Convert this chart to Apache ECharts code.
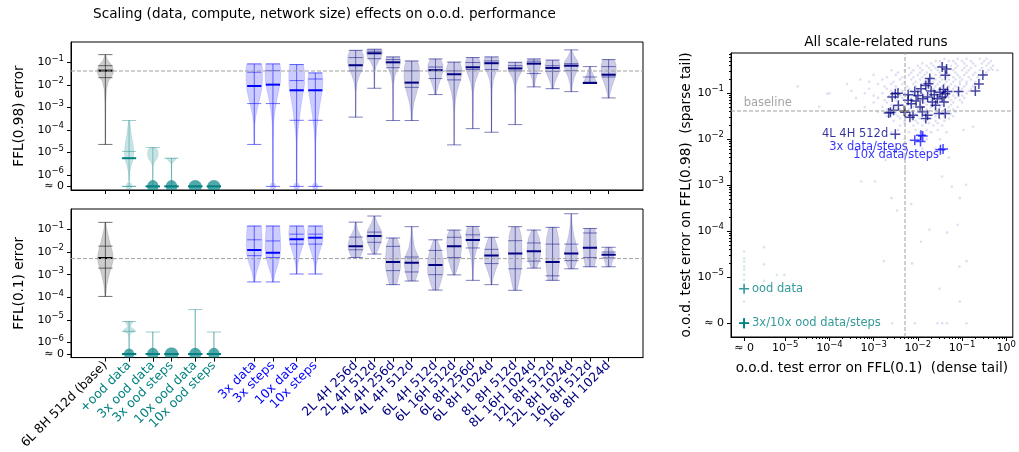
<!DOCTYPE html>
<html><head><meta charset="utf-8">
<script src="https://cdn.jsdelivr.net/npm/echarts@6/dist/echarts.min.js"></script>
<style>html,body{margin:0;padding:0;background:#fff}#c{width:1019px;height:452px}</style>
</head><body><div id="c"></div><script>
// ---------------- DATA ----------------
const categories = ['6L 8H 512d (base)','+ood data','3x ood data','3x ood steps','10x ood data','10x ood steps',
  '3x data','3x steps','10x data','10x steps',
  '2L 4H 256d','2L 4H 512d','4L 4H 256d','4L 4H 512d','6L 4H 512d','6L 16H 512d','6L 8H 256d','6L 8H 1024d',
  '8L 8H 512d','8L 16H 1024d','12L 8H 512d','12L 8H 1024d','16L 8H 512d','16L 8H 1024d'];
const catGroup = ['k','t','t','t','t','t','b','b','b','b','n','n','n','n','n','n','n','n','n','n','n','n','n','n'];
// extra spacing class before each category (0 none, 1 small, 2 large)
const slotGap = [0,1,1,0,1,0,2,0,1,0,2,0,0,0,1,0,0,0,1,0,0,0,0,0];

// log10 of error; -6.5 stands for "≈ 0"
const ZERO_V = -6.5;
const baseline98Log = -1.385;   // FFL(0.98) baseline error
const baseline01Log = -2.29;    // FFL(0.1) baseline error

// violin stats [min, q1, median, q3, max] (log10)
const topStats = [
 [-4.64,-1.68,-1.37,-1.15,-0.66],[-6.5,-6.5,-5.25,-4.95,-3.58],[-6.5,-6.5,-6.5,-6.5,-4.78],[-6.5,-6.5,-6.5,-6.5,-5.25],
 [-6.5,-6.5,-6.5,-6.5,-6.5],[-6.5,-6.5,-6.5,-6.5,-6.5],
 [-4.64,-2.83,-2.05,-1.44,-1.07],[-6.5,-2.83,-1.99,-1.37,-1.07],[-6.5,-3.57,-2.24,-1.81,-1.10],[-6.5,-3.57,-2.24,-1.74,-1.47],
 [-3.43,-1.38,-1.13,-0.79,-0.47],[-2.15,-0.84,-0.60,-0.51,-0.42],[-3.58,-1.24,-1.00,-0.88,-0.76],[-3.58,-2.11,-1.90,-1.38,-0.94],
 [-2.43,-1.72,-1.35,-1.21,-0.85],[-4.66,-1.78,-1.53,-1.38,-0.99],[-3.94,-1.32,-1.22,-1.01,-0.79],[-4.10,-1.32,-1.04,-0.94,-0.76],
 [-3.76,-1.38,-1.27,-1.15,-1.00],[-2.09,-1.50,-1.06,-0.95,-0.85],[-2.17,-1.40,-1.25,-1.15,-0.90],[-2.30,-1.37,-1.15,-1.06,-0.45],
 [-1.94,-1.94,-1.91,-1.65,-1.19],[-2.58,-1.65,-1.55,-1.19,-0.88]
];
const botStats = [
 [-3.96,-2.71,-2.26,-1.74,-0.69],[-6.5,-6.5,-6.5,-5.5,-5.07],[-6.5,-6.5,-6.5,-6.5,-5.53],[-6.5,-6.5,-6.5,-6.5,-6.5],
 [-6.5,-6.5,-6.5,-6.5,-4.54],[-6.5,-6.5,-6.5,-6.5,-5.53],
 [-3.32,-2.16,-1.91,-1.46,-0.85],[-3.32,-2.24,-2.03,-1.51,-0.85],[-2.97,-1.65,-1.44,-1.21,-0.85],[-2.97,-1.65,-1.37,-1.21,-0.85],
 [-2.24,-1.90,-1.75,-1.34,-0.68],[-2.09,-1.57,-1.29,-1.12,-0.41],[-3.44,-2.82,-2.44,-1.75,-1.38],[-3.28,-2.88,-2.47,-2.22,-0.88],
 [-3.68,-3.00,-2.57,-1.93,-1.46],[-3.01,-2.24,-1.75,-1.35,-1.03],[-3.25,-1.82,-1.47,-1.24,-0.87],[-3.44,-2.51,-2.15,-1.88,-1.35],
 [-3.69,-2.74,-2.07,-1.50,-0.88],[-2.71,-2.40,-1.96,-1.60,-1.03],[-3.25,-3.05,-2.44,-1.65,-0.91],[-2.74,-2.38,-2.06,-1.65,-0.31],
 [-2.65,-2.24,-1.81,-1.16,-0.96],[-2.65,-2.26,-2.12,-2.00,-1.79]
];
// density outlines: [log10 value, half-width in slot units]
const topShapes = [
 [[-0.66,0.02],[-0.9,0.12],[-1.15,0.36],[-1.4,0.46],[-1.6,0.36],[-1.85,0.16],[-2.2,0.06],[-2.8,0.025],[-4.64,0.012]],
 [[-3.58,0.03],[-4.2,0.12],[-4.7,0.22],[-5.0,0.25],[-5.3,0.22],[-5.6,0.11],[-5.9,0.03],[-6.25,0.02]],
 [[-4.78,0.14],[-4.9,0.26],[-5.05,0.29],[-5.25,0.24],[-5.45,0.08],[-5.6,0.02],[-6.25,0.012]],
 [[-5.25,0.27],[-5.35,0.18],[-5.5,0.03],[-6.25,0.012]],
 [],[],
 [[-1.07,0.40],[-1.3,0.44],[-1.8,0.44],[-2.2,0.40],[-2.6,0.30],[-3.0,0.18],[-3.4,0.08],[-3.8,0.03],[-4.64,0.015]],
 [[-1.07,0.38],[-1.4,0.42],[-1.9,0.40],[-2.3,0.30],[-2.7,0.20],[-3.2,0.10],[-3.7,0.04],[-4.5,0.02],[-6.3,0.015]],
 [[-1.10,0.36],[-1.4,0.42],[-2.0,0.42],[-2.5,0.32],[-3.0,0.22],[-3.5,0.15],[-4.0,0.07],[-4.5,0.03],[-6.3,0.015]],
 [[-1.47,0.36],[-1.8,0.40],[-2.2,0.38],[-2.6,0.30],[-3.0,0.22],[-3.5,0.14],[-4.0,0.07],[-4.5,0.03],[-6.3,0.015]],
 [[-0.47,0.30],[-0.7,0.42],[-1.0,0.43],[-1.3,0.35],[-1.6,0.20],[-1.9,0.08],[-2.3,0.025],[-3.43,0.012]],
 [[-0.42,0.40],[-0.55,0.43],[-0.75,0.38],[-0.95,0.22],[-1.2,0.08],[-1.5,0.03],[-2.15,0.015]],
 [[-0.76,0.35],[-0.9,0.40],[-1.1,0.38],[-1.3,0.25],[-1.6,0.10],[-2.0,0.03],[-3.58,0.012]],
 [[-0.94,0.30],[-1.2,0.40],[-1.6,0.42],[-2.0,0.38],[-2.4,0.25],[-2.8,0.12],[-3.2,0.05],[-3.58,0.03]],
 [[-0.85,0.28],[-1.1,0.40],[-1.4,0.40],[-1.7,0.30],[-2.0,0.17],[-2.3,0.07],[-2.43,0.05]],
 [[-0.99,0.30],[-1.3,0.42],[-1.6,0.40],[-1.9,0.30],[-2.3,0.15],[-2.7,0.07],[-3.2,0.03],[-4.66,0.012]],
 [[-0.79,0.30],[-1.0,0.40],[-1.3,0.38],[-1.6,0.25],[-1.9,0.12],[-2.3,0.04],[-3.94,0.012]],
 [[-0.76,0.35],[-0.95,0.42],[-1.2,0.38],[-1.5,0.22],[-1.8,0.10],[-2.2,0.04],[-4.10,0.015]],
 [[-1.00,0.35],[-1.2,0.40],[-1.45,0.32],[-1.7,0.15],[-2.0,0.05],[-2.5,0.02],[-3.76,0.012]],
 [[-0.85,0.30],[-1.0,0.38],[-1.25,0.33],[-1.5,0.20],[-1.8,0.08],[-2.09,0.04]],
 [[-0.90,0.32],[-1.1,0.40],[-1.4,0.38],[-1.7,0.22],[-1.95,0.10],[-2.17,0.05]],
 [[-0.45,0.02],[-0.7,0.15],[-0.95,0.35],[-1.15,0.40],[-1.4,0.30],[-1.7,0.15],[-2.0,0.06],[-2.3,0.03]],
 [[-1.19,0.03],[-1.4,0.10],[-1.6,0.20],[-1.8,0.30],[-1.94,0.34]],
 [[-0.88,0.30],[-1.1,0.40],[-1.5,0.40],[-1.8,0.30],[-2.1,0.17],[-2.4,0.07],[-2.58,0.04]]
];
const botShapes = [
 [[-0.69,0.02],[-1.0,0.08],[-1.5,0.22],[-2.0,0.38],[-2.3,0.43],[-2.6,0.35],[-3.0,0.20],[-3.5,0.07],[-3.96,0.02]],
 [[-5.07,0.23],[-5.15,0.15],[-5.3,0.06],[-5.42,0.28],[-5.52,0.30],[-5.6,0.06],[-5.8,0.02],[-6.25,0.015]],
 [[-5.53,0.012],[-6.25,0.012]],
 [],
 [[-4.54,0.012],[-6.25,0.012]],
 [[-5.53,0.012],[-6.25,0.012]],
 [[-0.85,0.38],[-1.2,0.41],[-1.7,0.43],[-2.1,0.40],[-2.5,0.28],[-2.9,0.12],[-3.32,0.03]],
 [[-0.85,0.36],[-1.3,0.40],[-1.8,0.42],[-2.2,0.38],[-2.6,0.25],[-3.0,0.10],[-3.32,0.03]],
 [[-0.85,0.38],[-1.1,0.42],[-1.5,0.40],[-1.8,0.30],[-2.2,0.15],[-2.6,0.05],[-2.97,0.02]],
 [[-0.85,0.38],[-1.1,0.42],[-1.5,0.40],[-1.8,0.30],[-2.2,0.15],[-2.6,0.05],[-2.97,0.02]],
 [[-0.68,0.03],[-1.0,0.10],[-1.3,0.28],[-1.6,0.40],[-1.85,0.40],[-2.1,0.30],[-2.24,0.22]],
 [[-0.41,0.03],[-0.7,0.15],[-1.0,0.35],[-1.3,0.42],[-1.6,0.35],[-1.9,0.20],[-2.09,0.10]],
 [[-1.38,0.20],[-1.7,0.35],[-2.2,0.40],[-2.7,0.40],[-3.1,0.30],[-3.44,0.20]],
 [[-0.88,0.02],[-1.3,0.05],[-1.8,0.15],[-2.2,0.35],[-2.6,0.40],[-3.0,0.30],[-3.28,0.20]],
 [[-1.46,0.10],[-1.9,0.30],[-2.4,0.42],[-2.9,0.42],[-3.3,0.30],[-3.68,0.15]],
 [[-1.03,0.25],[-1.3,0.38],[-1.8,0.40],[-2.3,0.33],[-2.7,0.18],[-3.01,0.06]],
 [[-0.87,0.28],[-1.2,0.38],[-1.5,0.35],[-1.9,0.20],[-2.3,0.08],[-2.8,0.03],[-3.25,0.02]],
 [[-1.35,0.15],[-1.7,0.30],[-2.1,0.40],[-2.5,0.35],[-2.9,0.18],[-3.2,0.07],[-3.44,0.03]],
 [[-0.88,0.20],[-1.3,0.33],[-1.8,0.36],[-2.4,0.36],[-2.9,0.30],[-3.3,0.20],[-3.69,0.10]],
 [[-1.03,0.12],[-1.4,0.30],[-1.9,0.37],[-2.3,0.33],[-2.6,0.20],[-2.71,0.15]],
 [[-0.91,0.20],[-1.4,0.33],[-2.0,0.36],[-2.6,0.35],[-3.0,0.30],[-3.25,0.25]],
 [[-0.31,0.02],[-0.8,0.05],[-1.3,0.15],[-1.7,0.28],[-2.0,0.35],[-2.4,0.30],[-2.74,0.15]],
 [[-0.96,0.28],[-1.3,0.33],[-1.8,0.35],[-2.2,0.33],[-2.5,0.28],[-2.65,0.25]],
 [[-1.79,0.15],[-1.95,0.25],[-2.1,0.27],[-2.3,0.25],[-2.5,0.18],[-2.65,0.13]]
];
// mass at ≈0: [half-width (slots), half-height (decades), dense?]
const topBlobs = [null,[0.17,0.2,0],[0.30,0.28,1],[0.30,0.28,1],[0.35,0.28,1],[0.35,0.28,1],null,[0.16,0.18,0],[0.16,0.18,0],[0.16,0.18,0],
  null,null,null,null,null,null,null,null,null,null,null,null,null,null];
const botBlobs = [null,[0.27,0.24,1],[0.30,0.27,1],[0.36,0.29,1],[0.32,0.27,1],[0.30,0.27,1],null,null,null,null,
  null,null,null,null,null,null,null,null,null,null,null,null,null,null];

// scatter (log10 FFL(0.1) error, log10 FFL(0.98) error); ≈0 -> x -5.93 / y -6.0
const ZERO_SX = -5.93, ZERO_SY = -6.0;
const cloudRows = [
 [-0.25,[-1.4,-1.1,-0.9,-0.6,-0.45]],
 [-0.3,[-1.6,-1.5,-1.3,-1.2,-1.0,-0.8,-0.5,-0.35]],
 [-0.35,[-1.9,-1.7,-1.45,-1.15,-0.95,-0.75,-0.55,-0.4]],
 [-0.4,[-2.0,-1.8,-1.65,-1.5,-1.25,-1.1,-0.9,-0.7,-0.45,-0.3]],
 [-0.45,[-2.2,-1.95,-1.75,-1.6,-1.35,-1.15,-0.95,-0.8,-0.55,-0.35]],
 [-0.5,[-2.6,-2.3,-2.1,-1.9,-1.7,-1.55,-1.4,-1.2,-1.0,-0.85,-0.6,-0.4]],
 [-0.55,[-2.45,-2.15,-1.95,-1.8,-1.5,-1.35,-1.15,-0.9,-0.7,-0.45]],
 [-0.6,[-3.0,-2.5,-2.2,-2.0,-1.85,-1.6,-1.45,-1.3,-1.1,-0.95,-0.75,-0.5]],
 [-0.65,[-2.7,-2.35,-2.1,-1.9,-1.7,-1.5,-1.35,-1.2,-1.05,-0.85,-0.65]],
 [-0.7,[-3.3,-2.8,-2.4,-2.15,-1.95,-1.75,-1.6,-1.45,-1.3,-1.15,-1.0,-0.8,-0.6]],
 [-0.75,[-3.1,-2.55,-2.3,-2.05,-1.85,-1.65,-1.5,-1.35,-1.2,-1.05,-0.9,-0.7]],
 [-0.8,[-3.6,-2.9,-2.6,-2.35,-2.1,-1.9,-1.7,-1.55,-1.4,-1.25,-1.05,-0.9,-0.7]],
 [-0.85,[-2.75,-2.5,-2.25,-2.05,-1.8,-1.6,-1.45,-1.3,-1.15,-0.95,-0.75]],
 [-0.9,[-3.1,-2.7,-2.45,-2.2,-2.0,-1.85,-1.65,-1.5,-1.35,-1.2,-1.0,-0.8]],
 [-0.95,[-3.5,-2.6,-2.35,-2.15,-1.95,-1.7,-1.55,-1.4,-1.25,-1.05,-0.85]],
 [-1.0,[-4.0,-3.2,-2.8,-2.5,-2.3,-2.1,-1.9,-1.75,-1.6,-1.45,-1.3,-1.1,-0.9]],
 [-1.05,[-3.0,-2.65,-2.4,-2.2,-2.0,-1.85,-1.65,-1.5,-1.35,-1.2,-1.0]],
 [-1.1,[-3.4,-2.9,-2.6,-2.35,-2.15,-1.95,-1.8,-1.6,-1.45,-1.3,-1.15,-0.95]],
 [-1.15,[-2.75,-2.5,-2.3,-2.1,-1.9,-1.7,-1.5,-1.4,-1.25,-1.05]],
 [-1.2,[-3.0,-2.7,-2.45,-2.25,-2.05,-1.85,-1.7,-1.55,-1.35,-1.2,-1.0]],
 [-1.25,[-2.6,-2.35,-2.15,-1.95,-1.8,-1.6,-1.45,-1.25]],
 [-1.3,[-3.2,-2.8,-2.5,-2.3,-2.1,-1.9,-1.7,-1.5,-1.3,-1.1]],
 [-1.35,[-2.7,-2.4,-2.2,-2.0,-1.8,-1.6,-1.4,-1.2]],
 [-1.4,[-2.9,-2.6,-2.35,-2.15,-1.95,-1.75,-1.55,-1.35,-1.15]],
 [-1.45,[-2.5,-2.25,-2.05,-1.85,-1.65,-1.45,-1.25]],
 [-1.5,[-2.7,-2.45,-2.2,-2.0,-1.8,-1.6,-1.4,-1.2]],
 [-1.55,[-2.4,-2.15,-1.95,-1.7,-1.5,-1.3]],
 [-1.6,[-2.55,-2.3,-2.05,-1.85,-1.6,-1.4]],
 [-1.65,[-2.3,-2.0,-1.75,-1.55]],
 [-1.7,[-2.4,-2.1,-1.9,-1.65,-1.45]],
 [-1.8,[-2.45,-2.05,-1.8,-1.55]],
 [-1.85,[-2.6,-2.2,-1.95,-1.7,-1.35]],
 [-2.0,[-2.3,-2.0,-1.8,-1.5]],
 [-2.2,[-2.5,-1.9,-1.6]],
 [-2.4,[-2.2,-1.75,-1.3]]
];
const cloudOutliers = [[-4.72,-0.85],[-4.05,-1.01],[-4.23,-1.29],[-3.28,-2.92],[-2.97,-2.92],[-2.73,-2.45],[-2.60,-3.28],
 [-2.29,-2.67],[-0.97,-1.80],[-0.75,-1.73],[-0.91,-2.99],[-1.45,-2.81],[-1.23,-3.03],[-1.05,-3.28],[-0.31,-0.49],[-0.20,-0.50],
 [-2.47,-3.55],[-2.15,-3.41],[-1.74,-3.97],[-1.93,-4.23],[-1.10,-3.86],[-1.34,-4.03],[-2.77,-4.65],[-2.13,-4.70],[-0.90,-4.65],
 [-1.06,-4.77],[-1.51,-5.25],[-1.05,-5.53],[-2.58,-6.0],[-2.07,-6.0],[-1.56,-6.0],[-1.45,-6.0],[-1.34,-6.0],[-0.90,-6.0]];
const oodFaint = [[-5.93,-4.44],[-5.93,-4.59],[-5.93,-4.66],[-5.93,-4.77],[-5.93,-4.84],[-5.93,-4.95],[-5.93,-5.06],[-5.93,-5.53],
 [-5.48,-4.35],[-5.48,-4.72],[-5.48,-5.08],[-5.19,-4.95],[-5.02,-4.95]];
const sizeRunPts = [[-1.45,-0.43],[-1.35,-0.47],[-1.38,-0.61],[-1.73,-0.68],[-1.76,-0.79],[-0.53,-0.60],[-0.62,-0.80],[-0.70,-0.95],
 [-1.08,-0.96],[-1.38,-1.01],[-1.33,-0.96],[-2.51,-1.01],[-2.58,-1.08],[-2.22,-1.03],[-2.07,-0.96],[-1.93,-0.90],[-1.82,-0.83],
 [-1.63,-1.03],[-2.44,-1.26],[-2.62,-1.41],[-2.55,-1.37],[-2.22,-1.15],[-2.15,-1.23],[-2.04,-1.17],[-1.89,-1.12],[-1.78,-1.08],
 [-1.67,-1.19],[-1.56,-1.12],[-1.45,-1.08],[-1.41,-1.19],[-2.29,-1.41],[-2.11,-1.48],[-2.18,-1.52],[-1.78,-1.48],[-1.82,-1.55],
 [-1.60,-1.26],[-1.52,-1.44],[-1.38,-1.44],[-2.66,-1.43],[-2.45,-1.00],[-1.95,-1.30],[-1.70,-0.95],[-1.50,-0.98],[-2.00,-1.05],
 [-1.42,-0.92],[-1.90,-1.40],[-2.51,-1.89]];
const dataStepPts = [[-2.07,-2.02],[-1.94,-2.05],[-1.89,-1.93],[-1.93,-1.91],[-1.49,-2.23],[-1.43,-2.21]];
const oodPts = [[-5.93,-5.25],[-5.93,-6.0],[-5.93,-6.0],[-5.93,-6.0]];
const basePt = [[-2.31,-1.385]];
const annotText = ['baseline','4L 4H 512d','3x data/steps','10x data/steps','ood data','3x/10x ood data/steps'];
const annotAt = [[-5.94,-1.21],[-2.67,-1.89],[-2.23,-2.17],[-1.52,-2.34],[-5.75,-5.25],[-5.75,-6.0]];
const annotSide = ['right','left','left','left','right','right'];

// ---------------- STYLE / LAYOUT ----------------
const TEAL = '#008080', BLUE = '#0000ff', NAVY = '#000080';
const FONT = '"DejaVu Sans", sans-serif';
const COL = {
  k:{fill:'rgba(0,0,0,0.2)', line:'rgba(0,0,0,0.55)', med:'#000000', dark:'rgba(0,0,0,0.6)', txt:'#000000'},
  t:{fill:'rgba(0,128,128,0.22)', line:'rgba(0,128,128,0.4)', med:'#008080', dark:'rgba(0,128,128,0.68)', txt:TEAL},
  b:{fill:'rgba(0,0,255,0.2)', line:'rgba(0,0,255,0.55)', med:'#0000ff', dark:'rgba(0,0,255,0.6)', txt:BLUE},
  n:{fill:'rgba(0,0,128,0.2)', line:'rgba(0,0,128,0.5)', med:'#000080', dark:'rgba(0,0,128,0.6)', txt:NAVY}
};
const GAP = [0, 0.27, 1.16];
const xPos = [];
slotGap.forEach((g,i)=>{ xPos.push(i===0 ? 0 : xPos[i-1] + 1 + GAP[g]); });
const XPAD = 1.84, CAP = 0.38;
const VMIN = -6.66, VMAX = -0.1;

const TICK_FS = 11;
const richTick = {
  b:{fontSize:TICK_FS, fontFamily:FONT, color:'#000', lineHeight:17},
  s:{fontSize:8.5, fontFamily:FONT, color:'#000', verticalAlign:'top'}
};
const logLabel = zero => v => (Math.abs(v - zero) < 0.01) ? '{b|≈ 0}' : '{b|10}{s|−' + Math.abs(Math.round(v)) + '}';

function violinRender(stats, shapes, blobs) {
  return function(params, api) {
    const x = api.value(0), i = api.value(1);
    const st = stats[i], c = COL[catGroup[i]], shp = shapes[i], b = blobs[i];
    const ch = [];
    if (shp.length) {
      const L = shp.map(p => api.coord([x - p[1], p[0]]));
      const R = shp.slice().reverse().map(p => api.coord([x + p[1], p[0]]));
      ch.push({type:'polygon', shape:{points:L.concat(R)}, style:{fill:c.fill, stroke:c.fill, lineWidth:0.6}});
    }
    if (b) {
      const pts = [];
      for (let k = 0; k <= 48; k++) { const t = k / 48 * 2 * Math.PI; pts.push(api.coord([x + b[0]*Math.cos(t), ZERO_V + b[1]*Math.sin(t)])); }
      ch.push({type:'polygon', shape:{points:pts}, style:{fill: b[2] ? c.dark : c.fill}});
    }
    const seg = (x1,y1,x2,y2,stroke,w) => { const p = api.coord([x1,y1]), q = api.coord([x2,y2]);
      ch.push({type:'line', shape:{x1:p[0],y1:p[1],x2:q[0],y2:q[1]}, style:{stroke, lineWidth:w}}); };
    if (st[4] > st[0]) seg(x, st[0], x, st[4], c.line, 1);
    [st[0], st[4], st[1], st[3]].forEach(v => seg(x - CAP, v, x + CAP, v, c.line, 1));
    seg(x - CAP, st[2], x + CAP, st[2], c.med, 2);
    return {type:'group', children:ch};
  };
}

const richCat = {};
Object.keys(COL).forEach(k => richCat[k] = {color: COL[k].txt, fontSize: 12.5, fontFamily: FONT});
const catFmt = v => { const i = xPos.findIndex(p => Math.abs(p - v) < 1e-6); return i < 0 ? '' : '{' + catGroup[i] + '|' + categories[i] + '}'; };

const vTicks = [-6, -5, -4, -3, -2, -1];
const violinX = (g, labels) => ({
  type:'value', gridIndex:g, min:xPos[0]-XPAD, max:xPos[xPos.length-1]+XPAD,
  axisLine:{show:true, onZero:false, lineStyle:{color:'#000', width:1}},
  axisTick:{show:true, customValues:xPos, length:4, lineStyle:{color:'#000'}},
  axisLabel:{show:labels, customValues:xPos, rotate:45, margin:6, formatter:catFmt, rich:richCat, fontSize:12.5, fontFamily:FONT, hideOverlap:false},
  splitLine:{show:false}
});
const violinY = (g, name) => ({
  type:'value', gridIndex:g, min:VMIN, max:VMAX, name, nameLocation:'middle', nameRotate:90, nameGap:45,
  position:'left',
  nameTextStyle:{fontSize:13.6, color:'#000', fontFamily:FONT},
  axisLine:{show:true, onZero:false, lineStyle:{color:'#000', width:1}},
  axisTick:{show:true, customValues:vTicks, length:4, lineStyle:{color:'#000'}},
  axisLabel:{customValues:vTicks, formatter:logLabel(ZERO_V), rich:richTick, margin:7, hideOverlap:false},
  splitLine:{show:false}
});
// separate axis carrying only the "≈ 0" tick so it is never dropped
const violinZeroY = g => ({
  type:'value', gridIndex:g, min:VMIN, max:VMAX, position:'left', offset:0,
  axisLine:{show:false, onZero:false},
  axisTick:{show:true, customValues:[ZERO_V], length:4, lineStyle:{color:'#000'}},
  axisLabel:{customValues:[ZERO_V], formatter:logLabel(ZERO_V), rich:richTick, margin:7, hideOverlap:false},
  splitLine:{show:false}
});

const SX_MIN = -6.226, SX_MAX = 0.147, SY_MIN = -6.30, SY_MAX = -0.124;
const sxTicks = [ZERO_SX, -5, -4, -3, -2, -1, 0];
const syTicks = [ZERO_SY, -5, -4, -3, -2, -1];
const minorX = [], minorY = [];
for (let d = -5; d <= 0; d++) for (let k = 2; k <= 9; k++) { const v = d + Math.log10(k); if (v < SX_MAX) minorX.push(v); }
for (let d = -5; d <= -1; d++) for (let k = 2; k <= 9; k++) { const v = d + Math.log10(k); if (v < SY_MAX) minorY.push(v); }
const sxLabel = v => (Math.abs(v - ZERO_SX) < 0.01) ? '{b|≈ 0}' : (Math.round(v) === 0 ? '{b|10}{s|0}' : '{b|10}{s|−' + Math.abs(Math.round(v)) + '}');

const cloudPts = [];
cloudRows.forEach(r => r[1].forEach(x => cloudPts.push([x, r[0]])));
cloudOutliers.forEach(p => cloudPts.push(p));

const CROSS = 'path://M0,5L10,5M5,0L5,10';
const crossSeries = (data, color, w, size) => ({
  type:'scatter', xAxisIndex:2, yAxisIndex:2, data, symbol:CROSS, symbolSize:size, silent:true,
  itemStyle:{color:'rgba(0,0,0,0)', borderColor:color, borderWidth:w, opacity:1}
});
const annotColors = ['#8c8c8c', NAVY, BLUE, BLUE, TEAL, TEAL];

const chart = echarts.init(document.getElementById('c'), null, {renderer:'canvas'});
chart.setOption({
  animation:false,
  textStyle:{fontFamily:FONT},
  graphic:[
    {type:'text', x:324.5, y:14, style:{text:'Scaling (data, compute, network size) effects on o.o.d. performance', font:'13.6px ' + FONT, fill:'#000', align:'center', verticalAlign:'middle', textAlign:'center', textVerticalAlign:'middle'}},
    {type:'text', x:876, y:42, style:{text:'All scale-related runs', font:'13.6px ' + FONT, fill:'#000', align:'center', verticalAlign:'middle', textAlign:'center', textVerticalAlign:'middle'}}
  ],
  grid:[
    {left:71, top:42, width:572, height:148, show:true, borderColor:'#000', borderWidth:1, backgroundColor:'transparent'},
    {left:71, top:209, width:572, height:149, show:true, borderColor:'#000', borderWidth:1, backgroundColor:'transparent'},
    {left:731, top:53, width:290, height:284, show:true, borderColor:'#000', borderWidth:1, backgroundColor:'transparent'}
  ],
  xAxis:[
    violinX(0, false),
    violinX(1, true),
    {type:'value', gridIndex:2, min:SX_MIN, max:SX_MAX, position:'bottom',
      name:'o.o.d. test error on FFL(0.1)  (dense tail)', nameLocation:'middle', nameGap:24,
      nameTextStyle:{fontSize:13.6, color:'#000', fontFamily:FONT},
      axisLine:{show:true, onZero:false, lineStyle:{color:'#000'}},
      axisTick:{customValues:sxTicks, length:4, lineStyle:{color:'#000'}},
      axisLabel:{customValues:sxTicks, formatter:sxLabel, rich:richTick, margin:3, hideOverlap:false},
      splitLine:{show:false}},
    {type:'value', gridIndex:2, min:SX_MIN, max:SX_MAX, position:'bottom', offset:0,
      axisLine:{show:false, onZero:false}, axisLabel:{show:false}, splitLine:{show:false},
      axisTick:{customValues:minorX, length:2, lineStyle:{color:'#000'}}}
  ],
  yAxis:[
    violinY(0, 'FFL(0.98) error'),
    violinY(1, 'FFL(0.1) error'),
    {type:'value', gridIndex:2, min:SY_MIN, max:SY_MAX, position:'left',
      name:'o.o.d. test error on FFL(0.98)  (sparse tail)', nameLocation:'middle', nameRotate:90, nameGap:38,
      nameTextStyle:{fontSize:13.6, color:'#000', fontFamily:FONT},
      axisLine:{show:true, onZero:false, lineStyle:{color:'#000'}},
      axisTick:{customValues:syTicks, length:4, lineStyle:{color:'#000'}},
      axisLabel:{customValues:syTicks, formatter:logLabel(ZERO_SY), rich:richTick, margin:7, hideOverlap:false},
      splitLine:{show:false}},
    {type:'value', gridIndex:2, min:SY_MIN, max:SY_MAX, position:'left', offset:0,
      axisLine:{show:false, onZero:false}, axisLabel:{show:false}, splitLine:{show:false},
      axisTick:{customValues:minorY, length:2, lineStyle:{color:'#000'}}},
    violinZeroY(0),
    violinZeroY(1)
  ],
  series:[
    {type:'line', xAxisIndex:0, yAxisIndex:0, silent:true, symbol:'none',
      data:[[xPos[0]-XPAD, baseline98Log],[xPos[xPos.length-1]+XPAD, baseline98Log]],
      lineStyle:{color:'#a0a0a0', width:1, type:[4,2]}},
    {type:'line', xAxisIndex:1, yAxisIndex:1, silent:true, symbol:'none',
      data:[[xPos[0]-XPAD, baseline01Log],[xPos[xPos.length-1]+XPAD, baseline01Log]],
      lineStyle:{color:'#a0a0a0', width:1, type:[4,2]}},
    {type:'custom', xAxisIndex:0, yAxisIndex:0, clip:true, silent:true,
      data:xPos.map((x,i)=>[x,i]), encode:{x:0, y:1}, renderItem:violinRender(topStats, topShapes, topBlobs)},
    {type:'custom', xAxisIndex:1, yAxisIndex:1, clip:true, silent:true,
      data:xPos.map((x,i)=>[x,i]), encode:{x:0, y:1}, renderItem:violinRender(botStats, botShapes, botBlobs)},
    // scatter panel
    {type:'line', xAxisIndex:2, yAxisIndex:2, silent:true, symbol:'none',
      data:[[baseline01Log, SY_MIN],[baseline01Log, SY_MAX]], lineStyle:{color:'#a0a0a0', width:1, type:[4,2]}},
    {type:'line', xAxisIndex:2, yAxisIndex:2, silent:true, symbol:'none',
      data:[[SX_MIN, baseline98Log],[SX_MAX, baseline98Log]], lineStyle:{color:'#a0a0a0', width:1, type:[4,2]}},
    {type:'scatter', xAxisIndex:2, yAxisIndex:2, silent:true, data:cloudPts, symbolSize:2.6,
      itemStyle:{color:'rgba(90,90,200,0.24)'}},
    {type:'scatter', xAxisIndex:2, yAxisIndex:2, silent:true, data:oodFaint, symbolSize:2.6,
      itemStyle:{color:'rgba(0,128,128,0.22)'}},
    crossSeries(sizeRunPts, 'rgba(0,0,128,0.72)', 1.5, 10),
    crossSeries(dataStepPts, 'rgba(0,0,255,0.72)', 1.5, 10),
    crossSeries(oodPts, 'rgba(0,128,128,0.8)', 1.6, 10),
    crossSeries(basePt, 'rgba(60,60,60,0.8)', 1.5, 10),
    {type:'scatter', xAxisIndex:2, yAxisIndex:2, silent:true, symbolSize:0,
      data:annotAt.map((p,i)=>({value:p, label:{show:true, formatter:annotText[i], position:annotSide[i], distance:0,
        color:annotColors[i], fontSize:11.5, fontFamily:FONT}}))}
  ]
});
</script></body></html>
